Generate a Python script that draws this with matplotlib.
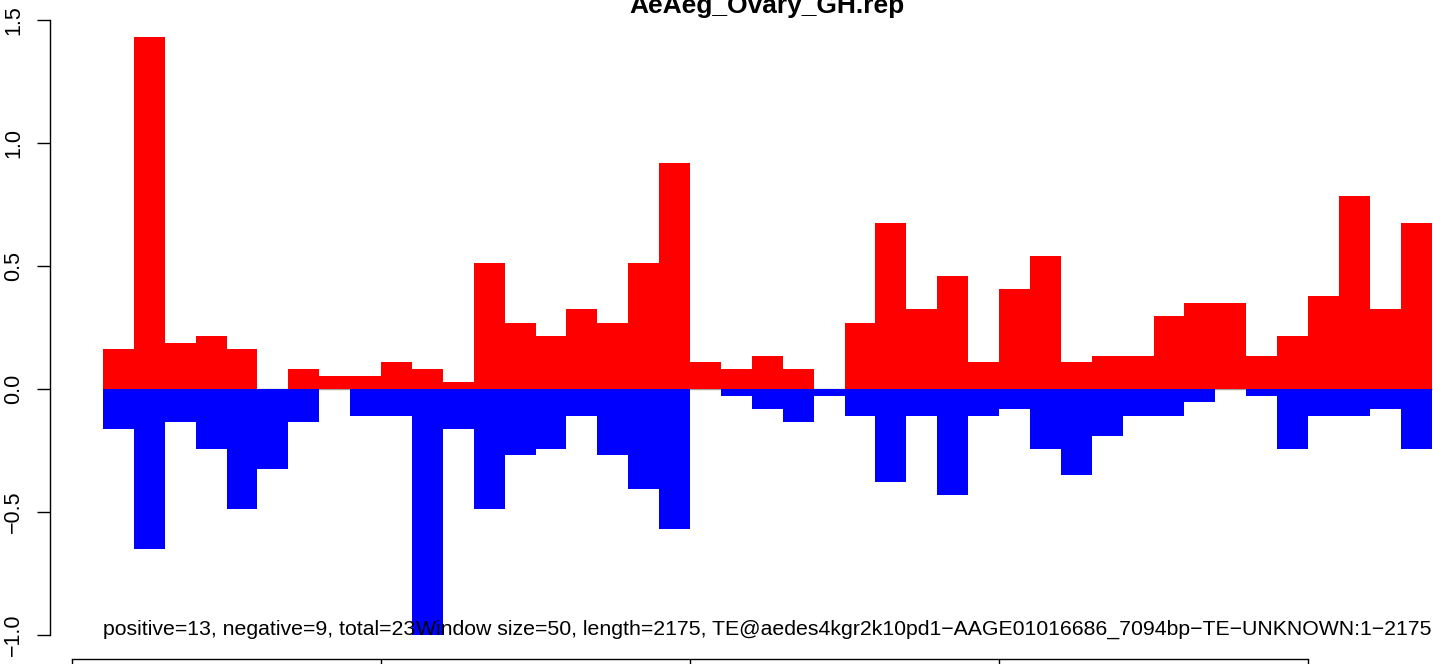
import numpy as np
import matplotlib
matplotlib.use("Agg")
import matplotlib.pyplot as plt

plt.rcParams['font.family'] = ['Liberation Sans', 'DejaVu Sans']

title = "AeAeg_Ovary_GH.rep"
window_size = 50
seq_length = 2175
window_index = np.arange(1, 44)          # windows 1..43

# signal per window
pos_vals = [0.162, 1.432, 0.189, 0.216, 0.162, 0.0, 0.081, 0.054, 0.054, 0.108,
            0.081, 0.027, 0.514, 0.270, 0.216, 0.324, 0.270, 0.514, 0.919, 0.108,
            0.081, 0.135, 0.081, 0.0, 0.270, 0.676, 0.324, 0.459, 0.108, 0.405,
            0.541, 0.108, 0.135, 0.135, 0.297, 0.351, 0.351, 0.135, 0.216, 0.378,
            0.784, 0.324, 0.676]
neg_vals = [-0.162, -0.649, -0.135, -0.243, -0.486, -0.324, -0.135, 0.0, -0.108, -0.108,
            -1.0, -0.162, -0.486, -0.270, -0.243, -0.108, -0.270, -0.405, -0.568, 0.0,
            -0.027, -0.081, -0.135, -0.027, -0.108, -0.378, -0.108, -0.432, -0.108, -0.081,
            -0.243, -0.351, -0.189, -0.108, -0.108, -0.054, 0.0, -0.027, -0.243, -0.108,
            -0.108, -0.081, -0.243]

yticks = [-1.0, -0.5, 0.0, 0.5, 1.0, 1.5]
ytick_labels = ['\u22121.0', '\u22120.5', '0.0', '0.5', '1.0', '1.5']
xticks = [0, 500, 1000, 1500, 2000]   # labels fall below the picture edge

info_left = "positive=13, negative=9, total=23"
info_right = ("Window size=50, length=2175, "
              "TE@aedes4kgr2k10pd1\u2212AAGE01016686_7094bp\u2212TE\u2212UNKNOWN:1\u22122175")

W, H = 1433, 664
fig = plt.figure(figsize=(W / 100, H / 100), dpi=100)

xlim = (-36, 2286)
ylim = (-1.097, 1.529)
left_px, px_per_x = 49.8, 0.618
top_px, px_per_y = 12.9, 246.0
ax = fig.add_axes([left_px / W,
                   (H - (top_px + (ylim[1] - ylim[0]) * px_per_y)) / H,
                   (xlim[1] - xlim[0]) * px_per_x / W,
                   (ylim[1] - ylim[0]) * px_per_y / H])

starts = window_index * window_size
ax.hlines(0, starts[0], starts[-1] + window_size, color='#a0a0a0', lw=1.0, zorder=0.5)
ax.bar(starts, pos_vals, width=window_size, align='edge', color='#ff0000', linewidth=0)
ax.bar(starts, neg_vals, width=window_size, align='edge', color='#0000ff', linewidth=0)

ax.set_xlim(*xlim)
ax.set_ylim(*ylim)

for s in ['top', 'right']:
    ax.spines[s].set_visible(False)
ax.spines['left'].set_bounds(-1.0, 1.5)
ax.spines['bottom'].set_bounds(0, 2000)
for s in ['left', 'bottom']:
    ax.spines[s].set_linewidth(1.0)

ax.set_yticks(yticks)
ax.set_yticklabels(ytick_labels, rotation=90, va='center')
ax.set_xticks(xticks)
ax.set_xticklabels([])
ax.tick_params(axis='both', direction='out', length=9.5, width=1.0,
               labelsize=15.5, pad=9)

ax.text(window_size, -1.0, info_left, ha='left', va='baseline', fontsize=15.35)
ax.text(starts[-1] + window_size, -1.0, info_right, ha='right', va='baseline', fontsize=15.35)

fig.text((left_px + (xlim[1] - xlim[0]) * px_per_x / 2) / W, 1 - 13 / H, title,
         ha='center', va='baseline', fontsize=19, fontweight='bold')

fig.savefig('out.png', dpi=100)
